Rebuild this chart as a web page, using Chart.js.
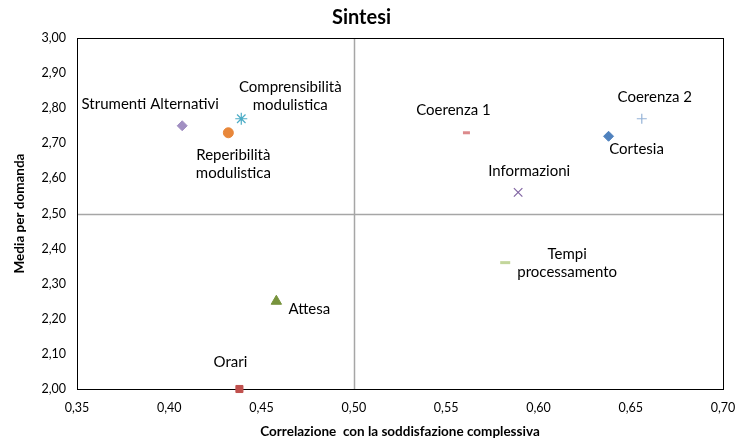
<!DOCTYPE html>
<html>
<head>
<meta charset="utf-8">
<script src="https://cdn.jsdelivr.net/npm/chart.js@4.4.1/dist/chart.umd.min.js"></script>
<style>
html,body{margin:0;padding:0;background:#fff;}
#wrap{width:738px;height:440px;}
</style>
</head>
<body>
<div id="wrap"><canvas id="c" width="738" height="440"></canvas></div>
<script>
const categories = ["Strumenti Alternativi","Reperibilità modulistica","Comprensibilità modulistica","Coerenza 1","Coerenza 2","Cortesia","Informazioni","Tempi processamento","Attesa","Orari"];
const correlation = [0.407, 0.432, 0.439, 0.561, 0.656, 0.638, 0.589, 0.582, 0.458, 0.438];
const meanScore   = [2.75, 2.73, 2.77, 2.73, 2.77, 2.72, 2.56, 2.36, 2.25, 2.00];
const xTicks = [0.35,0.40,0.45,0.50,0.55,0.60,0.65,0.70];
const yTicks = [2.00,2.10,2.20,2.30,2.40,2.50,2.60,2.70,2.80,2.90,3.00];
const crossX = 0.50, crossY = 2.50;

// styles (separate from data)
const markerStyle = [
  {s:'rectRot', c:'#a18fc2', r:5, w:1},
  {s:'circle', c:'#e8873a', r:5, w:1},
  {s:'star', c:'#4bacc6', r:6, w:1.2},
  {s:'line', c:'#dc8a8c', r:3.5, w:3},
  {s:'cross', c:'#95b3d7', r:5, w:1.2},
  {s:'rectRot', c:'#4f81bd', r:5, w:1},
  {s:'crossRot', c:'#8064a2', r:6, w:1.2},
  {s:'line', c:'#c3d69b', r:5, w:3},
  {s:'triangle', c:'#77933c', r:6, w:1},
  {s:'rect', c:'#c0504d', r:5, w:1}
];
const labelLines = [["Strumenti Alternativi"],["Reperibilità","modulistica"],["Comprensibilità","modulistica"],["Coerenza 1"],["Coerenza 2"],["Cortesia"],["Informazioni"],["Tempi","processamento"],["Attesa"],["Orari"]];
const labelOffset = [[-32,-22],[5,22],[49,-32],[-13,-23],[13,-22],[28,13],[11,-21],[62,-8],[33,8],[-9,-27]];

const FONT = "Lato, 'Open Sans', sans-serif";

const datasets = categories.map((name,i)=>({
  label: name,
  data: [{x: correlation[i], y: meanScore[i]}],
  pointStyle: markerStyle[i].s,
  pointRadius: markerStyle[i].r,
  pointHoverRadius: markerStyle[i].r,
  backgroundColor: markerStyle[i].c,
  borderColor: markerStyle[i].c,
  borderWidth: markerStyle[i].w,
  clip: false
}));

const overlay = {
  id:'overlay',
  beforeDatasetsDraw(chart){
    const {ctx, chartArea:a, scales:{x,y}} = chart;
    ctx.save();
    ctx.strokeStyle = '#a6a6a6';
    ctx.lineWidth = 1.5;
    const px = Math.round(x.getPixelForValue(crossX))+0.5;
    const py = Math.round(y.getPixelForValue(crossY))+0.5;
    ctx.beginPath();
    ctx.moveTo(px, a.top); ctx.lineTo(px, a.bottom);
    ctx.moveTo(a.left, py); ctx.lineTo(a.right, py);
    ctx.stroke();
    ctx.strokeStyle = '#000';
    ctx.lineWidth = 1;
    ctx.strokeRect(Math.round(a.left)+0.5, Math.round(a.top)+0.5, Math.round(a.right-a.left), Math.round(a.bottom-a.top));
    ctx.restore();
  },
  afterDatasetsDraw(chart){
    const {ctx, scales:{x,y}} = chart;
    ctx.save();
    ctx.font = "15px " + FONT;
    ctx.fillStyle = '#000';
    ctx.textAlign = 'center';
    ctx.textBaseline = 'middle';
    categories.forEach((n,i)=>{
      const px = x.getPixelForValue(correlation[i]);
      const py = y.getPixelForValue(meanScore[i]);
      labelLines[i].forEach((t,k)=>{
        ctx.fillText(t, px+labelOffset[i][0], py+labelOffset[i][1]+k*18);
      });
    });
    ctx.restore();
  }
};

new Chart(document.getElementById('c'), {
  type:'scatter',
  data:{datasets},
  options:{
    responsive:false,
    animation:false,
    layout:{padding:{left:0,right:15,top:0,bottom:0}},
    plugins:{
      legend:{display:false},
      tooltip:{enabled:false},
      title:{display:true,text:'Sintesi',color:'#000',font:{family:FONT,size:20,weight:'bold'},padding:{top:6,bottom:8}}
    },
    scales:{
      x:{
        type:'linear', min:0.35, max:0.70,
        afterBuildTicks(s){ s.ticks = xTicks.map(v=>({value:v})); },
        afterFit(s){ s.height = 51; s.paddingLeft = 0; s.paddingRight = 0; },
        grid:{display:false, drawTicks:false},
        border:{display:false},
        ticks:{color:'#000',font:{family:FONT,size:12.5},padding:11,maxRotation:0,callback:v=>v.toFixed(2).replace('.',',')},
        title:{display:true,text:'Correlazione  con la soddisfazione complessiva',color:'#000',font:{family:FONT,size:13.5,weight:'bold'},padding:{top:0,bottom:0}}
      },
      y:{
        type:'linear', min:2.0, max:3.0,
        afterBuildTicks(s){ s.ticks = yTicks.map(v=>({value:v})); },
        afterFit(s){ s.width = 77; s.paddingTop = 0; s.paddingBottom = 0; },
        grid:{display:false, drawTicks:false},
        border:{display:false},
        ticks:{color:'#000',font:{family:FONT,size:12.5},padding:11,callback:v=>v.toFixed(2).replace('.',',')},
        title:{display:true,text:'Media per domanda',color:'#000',font:{family:FONT,size:13.5,weight:'bold'},padding:{top:12,bottom:4}}
      }
    }
  },
  plugins:[overlay]
});
</script>
</body>
</html>
